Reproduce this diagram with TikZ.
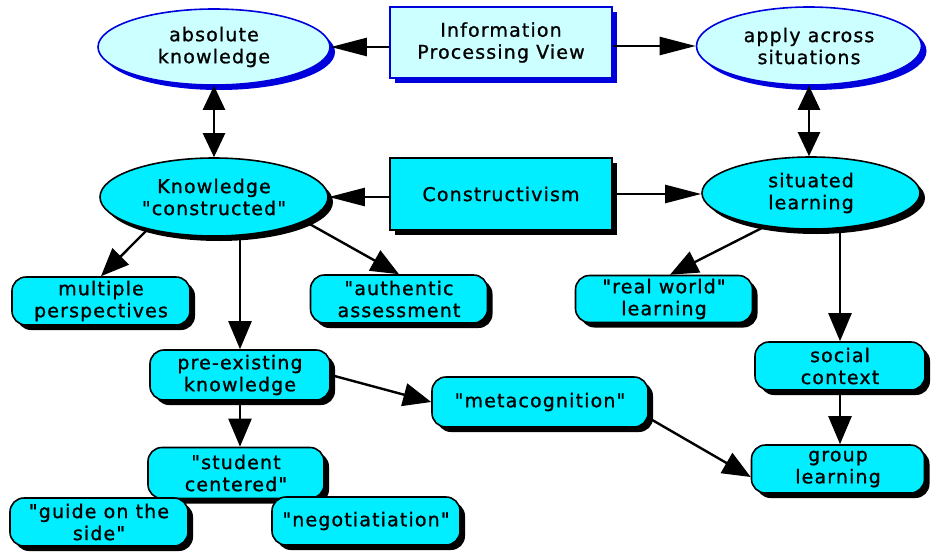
\documentclass[tikz,border=0pt]{standalone}
\usepackage{fontspec}
\setmainfont{DejaVu Sans}[LetterSpace=6, FakeBold=1, Ligatures=TeXOff]
\usetikzlibrary{shapes.geometric,arrows.meta,shadows,calc}
\definecolor{cyanD}{HTML}{00EEFF}
\definecolor{cyanL}{HTML}{CCFFFF}
\definecolor{blueB}{HTML}{0000DD}
\newcommand{\qt}{\symbol{34}}
\begin{document}
\begin{tikzpicture}[x=1pt,y=-1pt,
  base/.style={inner sep=0pt, align=center, font=\fontsize{19}{22}\selectfont, line width=1.6pt},
  blkshadow/.style={drop shadow={shadow xshift=5pt, shadow yshift=-5pt, fill=black, opacity=1}},
  blushadow/.style={drop shadow={shadow xshift=5pt, shadow yshift=-5pt, fill=blueB, opacity=1}},
  darkell/.style={base, ellipse, draw=black, fill=cyanD, blkshadow},
  lightell/.style={base, ellipse, draw=blueB, fill=cyanL, blushadow},
  lightbox/.style={base, rectangle, draw=blueB, fill=cyanL, blushadow},
  darkbox/.style={base, rectangle, draw=black, fill=cyanD, blkshadow},
  roundbox/.style={darkbox, rounded corners=14pt},
  arr/.style={line width=2.4pt, -{Triangle[length=28pt,width=23pt]}},
  harr/.style={line width=2.4pt, -{Triangle[length=36pt,width=18pt]}},
  darr/.style={line width=2.4pt, {Triangle[length=24pt,width=22pt]}-{Triangle[length=24pt,width=22pt]}}
]
\useasboundingbox[fill=white] (0,0) rectangle (933,554);

% top row
\node[lightell, minimum width=232pt, minimum height=76pt] (abs) at (214,47) {absolute\\knowledge};
\node[lightbox, minimum width=222pt, minimum height=71pt] (ipv) at (501,42.5) {Information\\Processing View};
\node[lightell, minimum width=225pt, minimum height=78pt] (apply) at (809,46) {apply across\\situations};

% second row
\node[darkell, minimum width=228pt, minimum height=78pt] (kc) at (214,197) {Knowledge\\\qt constructed\qt};
\node[darkbox, minimum width=222pt, minimum height=72pt] (cons) at (501,194) {Constructivism};
\node[darkell, minimum width=218pt, minimum height=72pt] (sit) at (811,193) {situated\\learning};

% third row
\node[roundbox, minimum width=178pt, minimum height=48pt] (mp) at (101,301) {multiple\\perspectives};
\node[roundbox, minimum width=177pt, minimum height=48pt] (aa) at (399,299) {\qt authentic\\assessment};
\node[roundbox, minimum width=177pt, minimum height=47pt] (rw) at (664,299) {\qt real world\qt\\learning};

% lower part
\node[roundbox, minimum width=180pt, minimum height=50pt] (pek) at (240,375) {pre-existing\\knowledge};
\node[roundbox, minimum width=216pt, minimum height=50pt] (meta) at (540,402) {\qt metacognition\qt};
\node[roundbox, minimum width=170pt, minimum height=48pt] (sc) at (840,366) {social\\context};
\node[roundbox, minimum width=173pt, minimum height=48pt] (gl) at (838,469) {group\\learning};
\node[roundbox, minimum width=176pt, minimum height=51pt] (stc) at (236,473) {\qt student\\centered\qt};
\node[roundbox, minimum width=178pt, minimum height=48pt] (gos) at (99,522) {\qt guide on the\\side\qt};
\node[roundbox, minimum width=188pt, minimum height=48pt] (neg) at (366,521) {\qt negotiatiation\qt};

% connectors
\draw[harr] (ipv.west |- abs.east) -- (abs.east);
\draw[harr] (ipv.east |- apply.west) -- (apply.west);
\draw[harr] (cons.west |- kc.east) -- (kc.east);
\draw[harr] (cons.east) -- (cons.east -| sit.west);
\draw[darr] (abs.south) -- (kc.north);
\draw[darr] (apply.south) -- (apply.south |- sit.north);
\draw[arr] (kc.206) -- (mp.north);
\draw[arr] (kc.-15) -- (aa.north);
\draw[arr] (pek.north |- kc.south) -- (pek.north);
\draw[arr] (sit.216) -- ($(rw.north)+(6,0)$);
\draw[arr] (sc.north |- sit.south) -- (sc.north);
\draw[arr] (pek.east) -- (meta.west);
\draw[arr] (pek.south) -- (pek.south |- stc.north);
\draw[arr] ($(meta.east)+(0,16)$) -- ($(gl.west)+(0,8)$);
\draw[arr] (sc.south) -- (sc.south |- gl.north);
\end{tikzpicture}
\end{document}
